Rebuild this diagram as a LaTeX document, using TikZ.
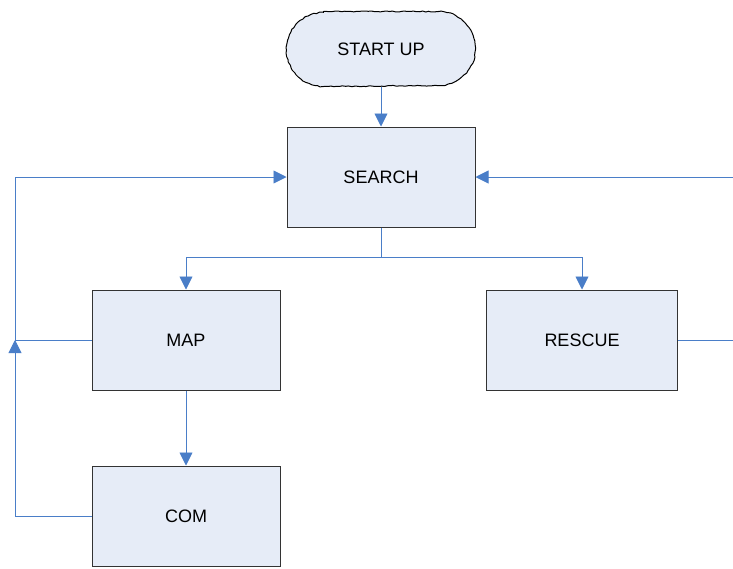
\documentclass[tikz,border=0pt]{standalone}
\usepackage{fontspec}
\setmainfont{Liberation Sans}
\usetikzlibrary{arrows.meta, decorations.pathmorphing}
\usepackage{xcolor}

\definecolor{boxfill}{HTML}{E6ECF7}
\definecolor{flowblue}{HTML}{4A7EC8}

\tikzset{
  block/.style={draw=black!80, line width=1pt, fill=boxfill, minimum width=188pt,
    minimum height=100pt, inner sep=0pt, font=\fontsize{18}{21}\selectfont},
  roughline/.style={draw=black, line width=1pt, decorate,
    decoration={random steps, segment length=3pt, amplitude=0.5pt}},
  flow/.style={draw=flowblue, line width=0.9pt},
  flowarrow/.style={-{Triangle[length=13pt,width=13pt]}}
}

\begin{document}
\begin{tikzpicture}[x=1pt, y=-1pt]
    \useasboundingbox (0,0) rectangle (733,568);
    \pgfmathsetseed{7}

    % states
    \node[block, draw=none, rounded corners=37pt, minimum height=74pt] (start) at (381,49) {START UP};
    \draw[roughline] ([xshift=37pt]start.north west) -- ([xshift=-37pt]start.north east)
        arc[start angle=90, end angle=-90, radius=37pt]
        -- ([xshift=37pt]start.south west)
        arc[start angle=270, end angle=90, radius=37pt] -- cycle;
    \node[block] (search) at (381,177) {SEARCH};
    \node[block] (map) at (186,340) {MAP};
    \node[block, minimum width=191pt] (rescue) at (582,340) {RESCUE};
    \node[block] (com) at (186,516) {COM};

    % helper points for the loops
    \coordinate (split) at (381,257);
    \coordinate (loopl) at (15,340);
    \coordinate (loopr) at (733,177);
    \coordinate (rescueout) at (733,340);

    % forward flow
    \draw[flow, flowarrow] (start) -- (search);
    \draw[flow] (search.south) -- (split);
    \draw[flow, flowarrow] (split) -| (map.north);
    \draw[flow, flowarrow] (split) -| (rescue.north);
    \draw[flow, flowarrow] (map) -- (com);

    % back to SEARCH
    \draw[flow, flowarrow] (com.west) -| (loopl);
    \draw[flow, flowarrow] (map.west) -- (loopl) |- (search.west);
    \draw[flow] (rescue.east) -- (rescueout);
    \draw[flow, flowarrow] (loopr) -- (search.east);
\end{tikzpicture}
\end{document}
